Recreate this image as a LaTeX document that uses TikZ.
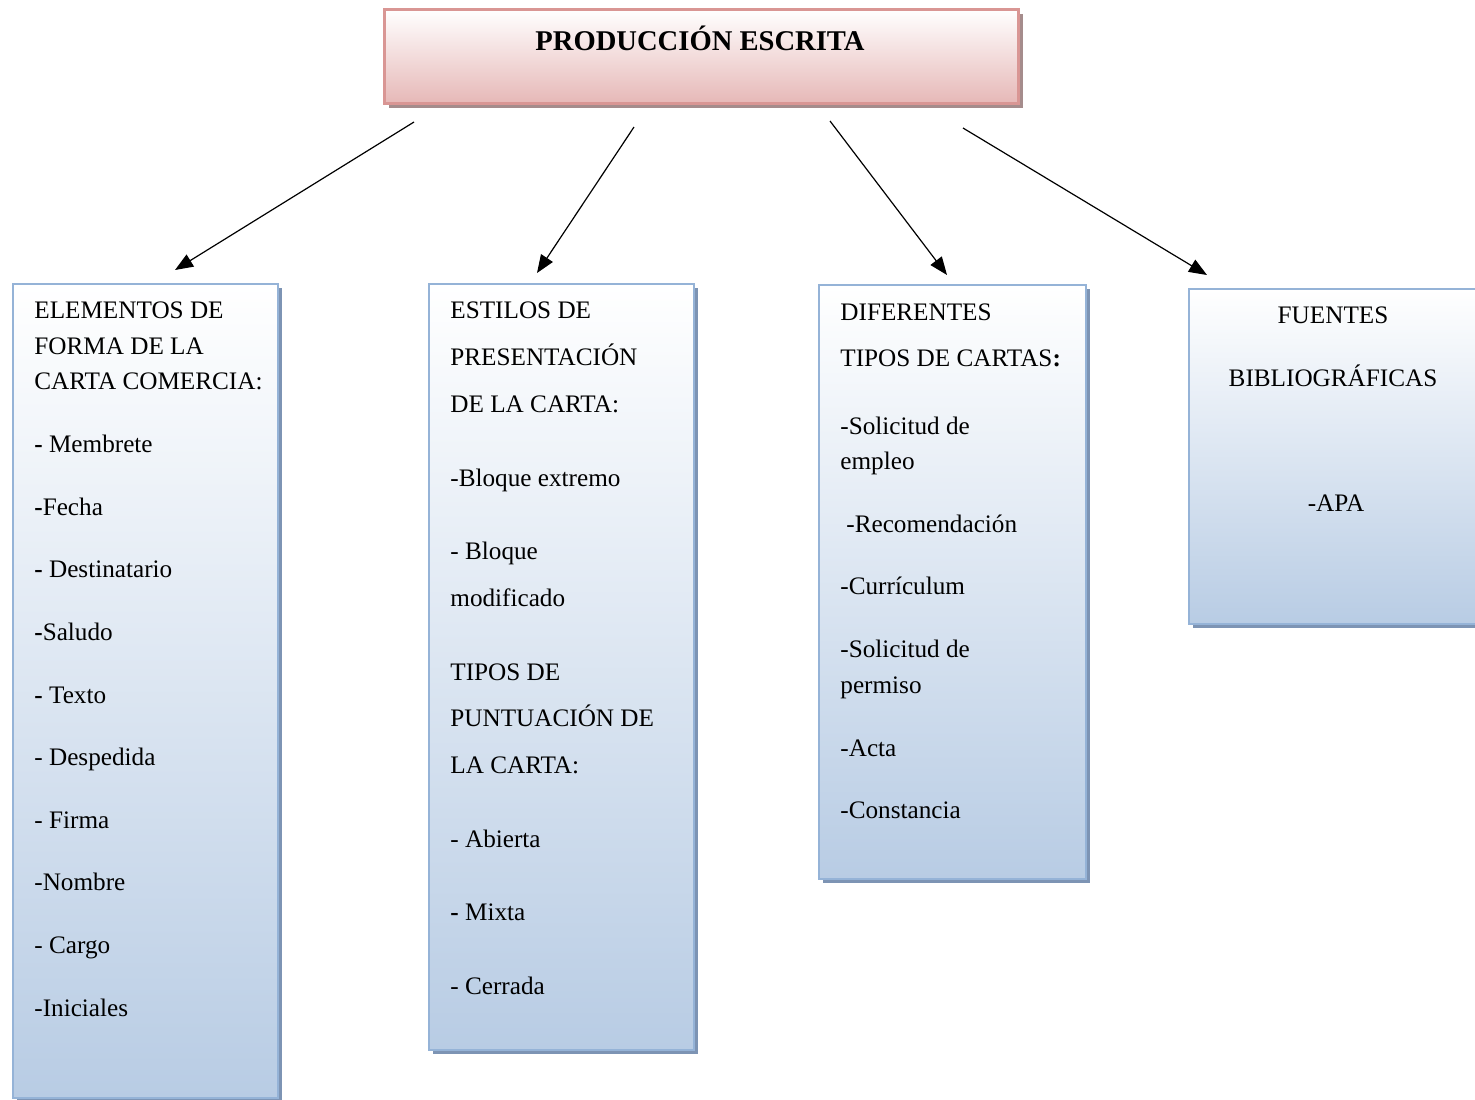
\documentclass[tikz,border=0pt]{standalone}
\usepackage{fontspec}
\setmainfont{Liberation Serif}
\usetikzlibrary{arrows.meta}
\usetikzlibrary{shadows}

\definecolor{rosaborde}{RGB}{217,150,148}
\definecolor{rosafondo}{RGB}{230,184,183}
\definecolor{rosasombra}{RGB}{165,140,140}
\definecolor{azulborde}{RGB}{149,179,215}
\definecolor{azulfondo}{RGB}{184,204,228}
\definecolor{azulsombra}{RGB}{125,148,180}

\tikzset{
  titulo/.style={draw=rosaborde, line width=1.5pt, top color=white, bottom color=rosafondo,
    drop shadow={shadow xshift=2pt, shadow yshift=-2pt, fill=rosasombra, opacity=1},
    anchor=north west, inner sep=0pt},
  caja/.style={draw=azulborde, line width=1pt, top color=white, bottom color=azulfondo,
    drop shadow={shadow xshift=2pt, shadow yshift=-2pt, fill=azulsombra, opacity=1},
    anchor=north west, inner sep=0pt},
  linea/.style={anchor=base west, inner sep=0pt, font=\fontsize{12.6}{14}\selectfont},
  centrada/.style={anchor=base, inner sep=0pt, font=\fontsize{12.6}{14}\selectfont},
  flecha/.style={-{Triangle[length=9pt,width=7pt]}, line width=0.6pt}
}

\begin{document}
\begin{tikzpicture}[x=0.5pt, y=-0.5pt]
    \useasboundingbox (0,0) rectangle (1475,1099);

    % cajas
    \node[titulo, minimum width=317pt, minimum height=47pt] (prod) at (383,8) {};
    \node[anchor=base, inner sep=0pt, font=\fontsize{14.3}{16}\selectfont\bfseries] (prodtxt) at (700,50) {PRODUCCIÓN ESCRITA};

    \node[caja, minimum width=132.5pt, minimum height=407pt] (elem) at (12,283) {};
    \node[caja, minimum width=132.5pt, minimum height=383pt] (estil) at (428,283) {};
    \node[caja, minimum width=133.5pt, minimum height=297pt] (tipos) at (818,284) {};
    \node[caja, minimum width=150pt, minimum height=167.5pt] (fuent) at (1188,288) {};

    % flechas
    \coordinate (p1) at (414,122);  \coordinate (q1) at (175,270);
    \coordinate (p2) at (634,127);  \coordinate (q2) at (537,273);
    \coordinate (p3) at (830,121);  \coordinate (q3) at (947,275);
    \coordinate (p4) at (963,128);  \coordinate (q4) at (1207,275);
    \draw[flecha] (p1) -- (q1);
    \draw[flecha] (p2) -- (q2);
    \draw[flecha] (p3) -- (q3);
    \draw[flecha] (p4) -- (q4);

    % elementos de forma
    \node[linea] (e1) at (34,318) {ELEMENTOS DE};
    \node[linea] (e2) at (34,354) {FORMA DE LA};
    \node[linea] (e3) at (34,389) {CARTA COMERCIA:};
    \node[linea] (e4) at (34,452) {\textbf{-} Membrete};
    \node[linea] (e5) at (34,515) {\textbf{-}Fecha};
    \node[linea] (e6) at (34,577) {\textbf{-} Destinatario};
    \node[linea] (e7) at (34,640) {\textbf{-}Saludo};
    \node[linea] (e8) at (34,703) {\textbf{-} Texto};
    \node[linea] (e9) at (34,765) {- Despedida};
    \node[linea] (e10) at (34,828) {- Firma};
    \node[linea] (e11) at (34,890) {-Nombre};
    \node[linea] (e12) at (34,953) {- Cargo};
    \node[linea] (e13) at (34,1016) {-Iniciales};

    % estilos
    \node[linea] (s1) at (450,318) {ESTILOS DE};
    \node[linea] (s2) at (450,365) {PRESENTACIÓN};
    \node[linea] (s3) at (450,412) {DE LA CARTA:};
    \node[linea] (s4) at (450,486) {-Bloque extremo};
    \node[linea] (s5) at (450,559) {- Bloque};
    \node[linea] (s6) at (450,606) {modificado};
    \node[linea] (s7) at (450,680) {TIPOS DE};
    \node[linea] (s8) at (450,726) {PUNTUACIÓN DE};
    \node[linea] (s9) at (450,773) {LA CARTA:};
    \node[linea] (s10) at (450,847) {- Abierta};
    \node[linea] (s11) at (450,920) {\textbf{-} Mixta};
    \node[linea] (s12) at (450,994) {- Cerrada};

    % tipos de cartas
    \node[linea] (t1) at (840,320) {DIFERENTES};
    \node[linea] (t2) at (840,366) {TIPOS DE CARTAS\textbf{:}};
    \node[linea] (t3) at (840,434) {-Solicitud de};
    \node[linea] (t4) at (840,469) {empleo};
    \node[linea] (t5) at (846,532) {-Recomendación};
    \node[linea] (t6) at (840,594) {-Currículum};
    \node[linea] (t7) at (840,657) {-Solicitud de};
    \node[linea] (t8) at (840,693) {permiso};
    \node[linea] (t9) at (840,756) {-Acta};
    \node[linea] (t10) at (840,818) {-Constancia};

    % fuentes
    \node[centrada] (f1) at (1333,323) {FUENTES};
    \node[centrada] (f2) at (1333,386) {BIBLIOGRÁFICAS};
    \node[centrada] (f3) at (1336,511) {-APA};
\end{tikzpicture}
\end{document}
